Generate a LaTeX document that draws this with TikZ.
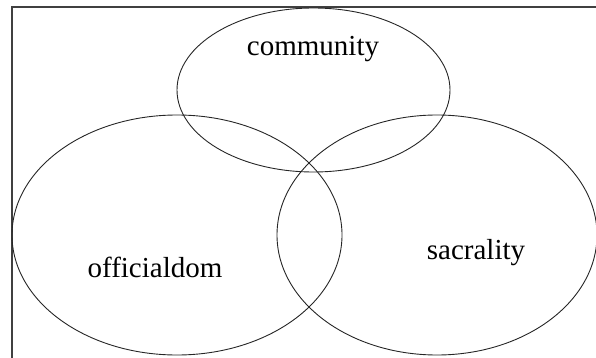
\documentclass[tikz,border=0pt]{standalone}
\usepackage{fontspec}
\setmainfont{Liberation Serif}
\usetikzlibrary{shapes.geometric}

\tikzset{
    circ/.style={draw=black!85, line width=0.9pt, ellipse, inner sep=0pt},
    word/.style={font=\fontsize{29}{33}\selectfont, inner sep=0pt}
}

\begin{document}
\begin{tikzpicture}[x=1pt, y=-1pt]
        \useasboundingbox (0,0) rectangle (596,358);
        \draw[black!75, line width=1.2pt] (12,7) rectangle (620,380);

        \node[circ, minimum width=273pt, minimum height=164pt] (comm) at (313.5,90) {};
        \node[circ, minimum width=330pt, minimum height=240pt] (off) at (177,235) {};
        \node[circ, minimum width=320pt, minimum height=240pt] (sac) at (437,235) {};

        \node[word] (commtext) at (313,49) {community};
        \node[word] (offtext) at (155,267) {officialdom};
        \node[word] (sactext) at (476,253) {sacrality};
    \end{tikzpicture}
\end{document}
